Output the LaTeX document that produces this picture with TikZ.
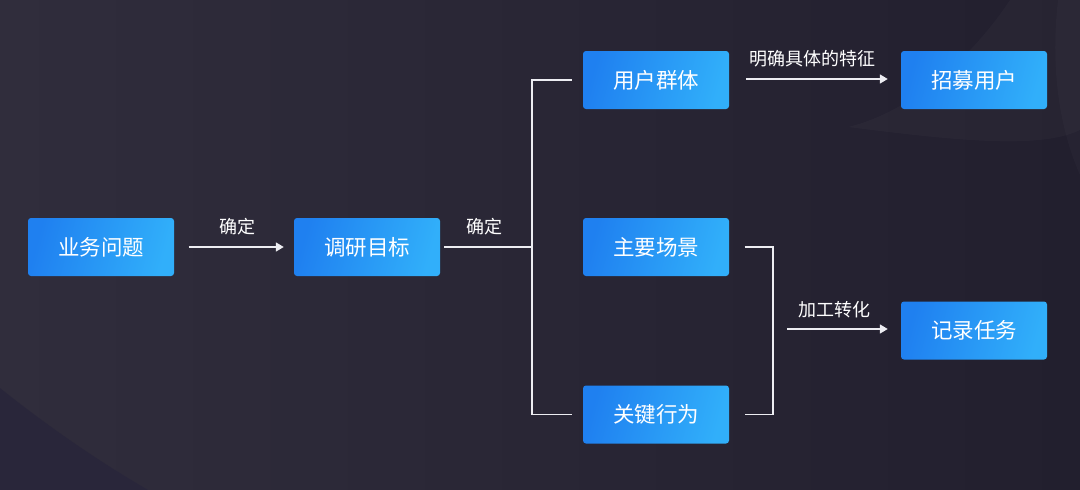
\documentclass[tikz,border=0pt]{standalone}
\usepackage{fontspec}
\setmainfont{Noto Sans CJK SC}
\usetikzlibrary{arrows.meta,shadings}
\definecolor{bgL}{HTML}{302D3C}
\definecolor{bgR}{HTML}{221F2E}
\definecolor{bgDark}{HTML}{28253A}
\definecolor{boxL}{HTML}{1F80F0}
\definecolor{boxR}{HTML}{31AFFA}
\definecolor{lineC}{HTML}{EDEDF2}
\begin{document}
\begin{tikzpicture}[x=1pt,y=-1pt,
  stepbox/.style={rectangle,rounded corners=3pt,minimum width=146pt,minimum height=58pt,
    inner sep=0pt,left color=boxL,right color=boxR,shading angle=75,
    text=white,font=\fontsize{21.5}{24}\selectfont},
  lbl/.style={text=white,font=\fontsize{18}{20}\selectfont,inner sep=0pt},
  conn/.style={draw=lineC,line width=1.6pt},
  arr/.style={conn,-{Triangle[length=8pt,width=9pt]}}]
% background
\useasboundingbox (0,0) rectangle (1080,490);
\shade[left color=bgL,right color=bgR] (0,0) rectangle (1080,490);
\fill[bgDark,opacity=0.8] (0,388) .. controls (50,428) and (100,462) .. (148,490) -- (0,490) -- cycle;
\fill[white,opacity=0.025] (1010,0) .. controls (970,60) and (910,112) .. (848,127) .. controls (950,140) and (1040,150) .. (1080,130) -- (1080,0) -- cycle;
\fill[white,opacity=0.02] (1058,0) .. controls (1050,70) and (1060,130) .. (1080,175) -- (1080,0) -- cycle;
% boxes
\node[stepbox] (b1) at (101,247) {业务问题};
\node[stepbox] (b2) at (367,247) {调研目标};
\node[stepbox] (b3) at (656,80) {用户群体};
\node[stepbox] (b4) at (656,247) {主要场景};
\node[stepbox] (b5) at (656,414.5) {关键行为};
\node[stepbox] (b6) at (974,80) {招募用户};
\node[stepbox] (b7) at (974,330.5) {记录任务};
% connectors
\draw[arr] ([xshift=14.5pt]b1.east) -- ([xshift=-10pt]b2.west);
\node[lbl] (l1) at (237,227) {确定};
\coordinate (j) at (532,247);
\draw[conn] ([xshift=4pt]b2.east) -- (j);
\node[lbl] (l2) at (484,227) {确定};
\draw[conn] ([xshift=-11pt]b3.west) -- ([xshift=-51pt]b3.west) -- ([xshift=-51pt]b5.west) -- ([xshift=-11pt]b5.west);
\draw[arr] ([xshift=17pt,yshift=1pt]b3.east) -- ([xshift=-13pt,yshift=1pt]b6.west);
\node[lbl] (l3) at (812,59) {明确具体的特征};
\draw[conn] ([xshift=15.5pt]b4.east) -- ([xshift=43.7pt]b4.east) -- ([xshift=43.7pt]b5.east) -- ([xshift=15.5pt]b5.east);
\coordinate (k) at (787,329);
\draw[arr,shorten >=13pt] (k) -- (k -| b7.west);
\node[lbl] (l4) at (834,310) {加工转化};
\end{tikzpicture}
\end{document}
